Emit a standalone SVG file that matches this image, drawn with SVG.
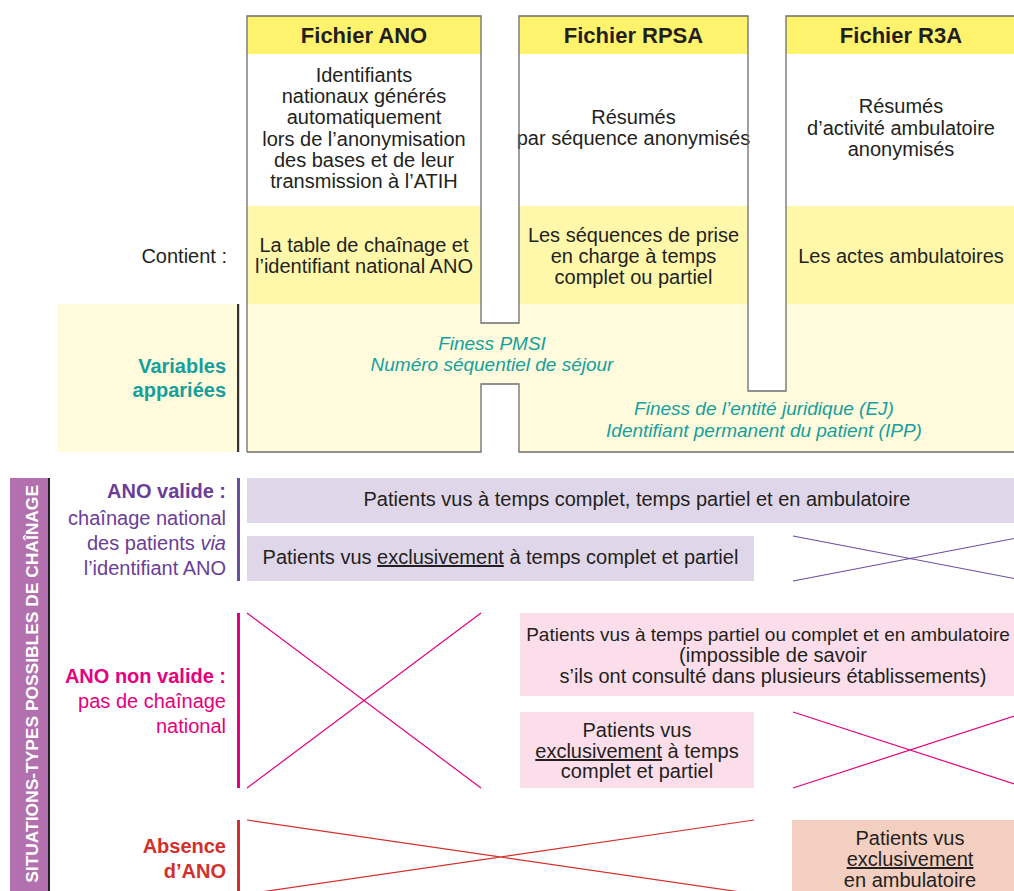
<svg xmlns="http://www.w3.org/2000/svg" width="1014" height="891" viewBox="0 0 1014 891">
<style>
text{font-family:"Liberation Sans",Arial,sans-serif;font-size:20px;fill:#231f20}
.c{text-anchor:middle}
.r{text-anchor:end}
.h{font-weight:bold;font-size:22px}
.teal{fill:#14a09c;font-style:italic;font-size:19px}
.tealb{fill:#14a09c;font-weight:bold}
.pur{fill:#6a3d98}
.mag{fill:#e6007e}
.red{fill:#d3302b}
.b{font-weight:bold}
.u{text-decoration:underline}
.hdr{fill:#fff36d}
.wht{fill:#ffffff}
.cnt{fill:#fff8ab}
.var{fill:#fffbdc}
.boxP{fill:#e0d6ea}
.boxM{fill:#fcdeeb}
.boxO{fill:#f3cfc1}
.outline{fill:none;stroke:#6d6d6d;stroke-width:1.3}
.xP{stroke:#6b4c9f;stroke-width:1.2;fill:none}
.xM{stroke:#e6007e;stroke-width:1.2;fill:none}
.xR{stroke:#d3302b;stroke-width:1.2;fill:none}
</style>

<!-- Variables label background -->
<rect x="57" y="304" width="180" height="148" class="var"/>
<rect x="237" y="304" width="2.2" height="148" fill="#333"/>

<!-- Columns -->
<g id="col-ano">
<rect x="247" y="16" width="234" height="38" class="hdr"/>
<rect x="247" y="54" width="234" height="152" class="wht"/>
<rect x="247" y="206" width="234" height="98" class="cnt"/>
<rect x="247" y="304" width="234" height="148" class="var"/>
<text x="364" y="43" class="c h">Fichier ANO</text>
<text x="364" y="82" class="c">Identifiants</text>
<text x="364" y="103" class="c">nationaux générés</text>
<text x="364" y="124" class="c">automatiquement</text>
<text x="364" y="146" class="c">lors de l’anonymisation</text>
<text x="364" y="167" class="c">des bases et de leur</text>
<text x="364" y="188" class="c">transmission à l’ATIH</text>
<text x="364" y="252" class="c">La table de chaînage et</text>
<text x="364" y="273" class="c">l’identifiant national ANO</text>
</g>
<g id="col-rpsa">
<rect x="519" y="16" width="229" height="38" class="hdr"/>
<rect x="519" y="54" width="229" height="152" class="wht"/>
<rect x="519" y="206" width="229" height="98" class="cnt"/>
<rect x="519" y="304" width="229" height="148" class="var"/>
<text x="633.5" y="43" class="c h">Fichier RPSA</text>
<text x="633.5" y="124" class="c">Résumés</text>
<text x="633.5" y="145" class="c">par séquence anonymisés</text>
<text x="633.5" y="242" class="c">Les séquences de prise</text>
<text x="633.5" y="263" class="c">en charge à temps</text>
<text x="633.5" y="284" class="c">complet ou partiel</text>
</g>
<g id="col-r3a">
<rect x="786" y="16" width="230" height="38" class="hdr"/>
<rect x="786" y="54" width="230" height="152" class="wht"/>
<rect x="786" y="206" width="230" height="98" class="cnt"/>
<rect x="786" y="304" width="230" height="148" class="var"/>
<text x="901" y="43" class="c h">Fichier R3A</text>
<text x="901" y="113" class="c">Résumés</text>
<text x="901" y="135" class="c">d’activité ambulatoire</text>
<text x="901" y="156" class="c">anonymisés</text>
<text x="901" y="263" class="c">Les actes ambulatoires</text>
</g>

<!-- Connectors between files (matched variables) -->
<g id="connectors">
<rect x="480" y="323" width="40" height="61" class="var"/>
<rect x="747" y="391" width="40" height="61" class="var"/>
<path class="outline" d="M247,452 V16 H481 V323 H519 V16 H748 V391 H786 V16 H1016"/>
<path class="outline" d="M247,452 H481 V384 H519 V452 H1016"/>
</g>

<g id="matched-vars">
<text x="492" y="350" class="c teal">Finess PMSI</text>
<text x="492" y="371" class="c teal">Numéro séquentiel de séjour</text>
<text x="764" y="415" class="c teal">Finess de l’entité juridique (EJ)</text>
<text x="764" y="437" class="c teal">Identifiant permanent du patient (IPP)</text>
</g>

<g id="row-labels">
<text x="227" y="263" class="r">Contient :</text>
<text x="226" y="373" class="r tealb">Variables</text>
<text x="226" y="397" class="r tealb">appariées</text>
</g>

<!-- Left band -->
<g id="band">
<rect x="10" y="478" width="38" height="413" fill="#b370ae"/>
<rect x="48" y="478" width="2" height="413" fill="#231f20"/>
<text transform="translate(38,485) rotate(-90)" class="r b" style="font-size:17.4px;fill:#ffffff">SITUATIONS-TYPES POSSIBLES DE CHAÎNAGE</text>
</g>

<!-- ANO valide -->
<g id="ano-valide">
<rect x="237" y="478" width="3" height="103" fill="#6b4c9f"/>
<text x="226" y="498" class="r b pur">ANO valide :</text>
<text x="226" y="525" class="r pur">chaînage national</text>
<text x="226" y="550" class="r pur">des patients <tspan font-style="italic">via</tspan></text>
<text x="226" y="575" class="r pur">l’identifiant ANO</text>
<rect x="247" y="478" width="769" height="45" class="boxP"/>
<text x="637" y="506" class="c">Patients vus à temps complet, temps partiel et en ambulatoire</text>
<rect x="247" y="536" width="507" height="45" class="boxP"/>
<text x="500.5" y="564" class="c">Patients vus <tspan class="u">exclusivement</tspan> à temps complet et partiel</text>
<path class="xP" d="M793,536 L1027,581 M793,581 L1027,536"/>
</g>

<!-- ANO non valide -->
<g id="ano-non-valide">
<rect x="237" y="613" width="3" height="175" fill="#e6007e"/>
<text x="226" y="683" class="r b mag">ANO non valide :</text>
<text x="226" y="708" class="r mag">pas de chaînage</text>
<text x="226" y="733" class="r mag">national</text>
<path class="xM" d="M247,613 L481,788 M247,788 L481,613"/>
<rect x="520" y="613" width="496" height="83" class="boxM"/>
<text x="768" y="641" class="c" style="font-size:19px">Patients vus à temps partiel ou complet et en ambulatoire</text>
<text x="773" y="662" class="c">(impossible de savoir</text>
<text x="773" y="683" class="c">s’ils ont consulté dans plusieurs établissements)</text>
<rect x="520" y="712" width="234" height="76" class="boxM"/>
<text x="637" y="737" class="c">Patients vus</text>
<text x="637" y="758" class="c"><tspan class="u">exclusivement</tspan> à temps</text>
<text x="637" y="778" class="c">complet et partiel</text>
<path class="xM" d="M793,712 L1027,788 M793,788 L1027,712"/>
</g>

<!-- Absence d'ANO -->
<g id="absence-ano">
<rect x="237" y="820" width="3" height="71" fill="#d3302b"/>
<text x="226" y="853" class="r b red">Absence</text>
<text x="226" y="878" class="r b red">d’ANO</text>
<path class="xR" d="M247,820 L754,894 M247,894 L754,820"/>
<rect x="792" y="820" width="224" height="71" class="boxO"/>
<text x="910" y="845" class="c">Patients vus</text>
<text x="910" y="866" class="c u">exclusivement</text>
<text x="910" y="887" class="c">en ambulatoire</text>
</g>
</svg>
